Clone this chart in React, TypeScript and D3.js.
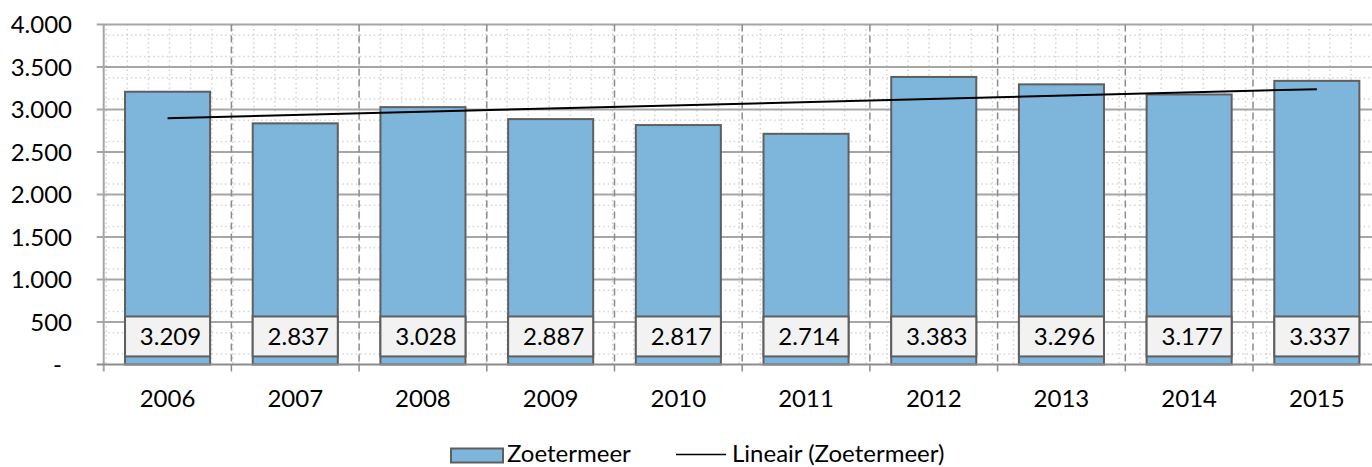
import React, { useEffect, useRef } from 'react';
import * as d3 from 'd3';

// chart data
const years = ['2006', '2007', '2008', '2009', '2010', '2011', '2012', '2013', '2014', '2015'];
const values = [3209, 2837, 3028, 2887, 2817, 2714, 3383, 3296, 3177, 3337];
const yTicks = [0, 500, 1000, 1500, 2000, 2500, 3000, 3500, 4000];
const seriesName = 'Zoetermeer';
const trendName = 'Lineair (Zoetermeer)';

const W = 1372;
const H = 467;
const FONT = 'Lato, Carlito, Calibri, sans-serif';
const FS = '24px';
const BAR = '#7eb5db';
const EDGE = '#5f5f5f';

// Dutch number format: 3.209
const fmt = (v: number) => (v === 0 ? '-' : d3.format(',')(v).replace(/,/g, '.'));

const App = () => {
    const ref = useRef<SVGSVGElement>(null);

    useEffect(() => {
        const svg = d3.select(ref.current);
        svg.selectAll('*').remove();

        const left = 103.7;
        const right = 1380.7; // plot runs past the picture edge
        const top = 24.5;
        const bottom = 364.5;

        const x = d3.scaleBand().domain(years).range([left, right])
            .paddingInner(0.334).paddingOuter(0.167);
        const y = d3.scaleLinear().domain([0, 4000]).range([bottom, top]);
        const step = x.step();

        const g = svg.append('g');

        // minor dotted grid
        const minorY = d3.range(125, 4000, 250);
        g.selectAll('.minor-y').data(minorY).enter().append('line')
            .attr('x1', left).attr('x2', W)
            .attr('y1', d => y(d)).attr('y2', d => y(d))
            .attr('stroke', '#d4d4d4').attr('stroke-width', 1.5)
            .attr('stroke-dasharray', '1.5,3');
        const minorX = d3.range(0, 60).map(i => left + 2.5 + i * 21.1).filter(v => v < W);
        g.selectAll('.minor-x').data(minorX).enter().append('line')
            .attr('x1', d => d).attr('x2', d => d)
            .attr('y1', top).attr('y2', bottom)
            .attr('stroke', '#d4d4d4').attr('stroke-width', 1.5)
            .attr('stroke-dasharray', '1.5,3');

        // major horizontal grid + y ticks
        g.selectAll('.major-y').data(yTicks.filter(d => d > 0)).enter().append('line')
            .attr('x1', left - 7).attr('x2', W)
            .attr('y1', d => y(d)).attr('y2', d => y(d))
            .attr('stroke', '#a6a6a6').attr('stroke-width', 2);

        // category boundaries
        const bounds = d3.range(1, years.length).map(i => left + i * step);
        g.selectAll('.major-x').data(bounds).enter().append('line')
            .attr('x1', d => d).attr('x2', d => d)
            .attr('y1', top).attr('y2', bottom)
            .attr('stroke', '#8c8c8c').attr('stroke-width', 1.5)
            .attr('stroke-dasharray', '7,4');

        // y axis line
        g.append('line')
            .attr('x1', left).attr('x2', left).attr('y1', top).attr('y2', bottom + 7)
            .attr('stroke', '#a6a6a6').attr('stroke-width', 2);

        // bars
        g.selectAll('.bar').data(values).enter().append('rect')
            .attr('x', (d, i) => x(years[i])!)
            .attr('y', d => y(d))
            .attr('width', x.bandwidth())
            .attr('height', d => bottom - y(d))
            .attr('fill', BAR).attr('stroke', EDGE).attr('stroke-width', 2);

        // x axis line + ticks
        g.append('line')
            .attr('x1', left - 7).attr('x2', W).attr('y1', bottom).attr('y2', bottom)
            .attr('stroke', '#8c8c8c').attr('stroke-width', 2);
        g.selectAll('.xtick').data(bounds).enter().append('line')
            .attr('x1', d => d).attr('x2', d => d)
            .attr('y1', bottom).attr('y2', bottom + 7)
            .attr('stroke', '#8c8c8c').attr('stroke-width', 1.5);

        // value label boxes
        const boxH = y(0) - y(470);
        const boxTop = y(565);
        g.selectAll('.lbox').data(values).enter().append('rect')
            .attr('x', (d, i) => x(years[i])!)
            .attr('y', boxTop)
            .attr('width', x.bandwidth())
            .attr('height', boxH)
            .attr('fill', '#f2f2f2').attr('stroke', EDGE).attr('stroke-width', 2);
        g.selectAll('.ltext').data(values).enter().append('text')
            .attr('x', (d, i) => x(years[i])! + x.bandwidth() / 2 + 3)
            .attr('y', boxTop + boxH / 2 + 8.5)
            .attr('text-anchor', 'middle')
            .style('font-family', FONT).style('font-size', FS).style('fill', '#000')
            .text(d => fmt(d));

        // linear trend (least squares)
        const idx = values.map((d, i) => i);
        const mx = d3.mean(idx)!;
        const my = d3.mean(values)!;
        const slope = d3.sum(idx, i => (i - mx) * (values[i] - my)) / d3.sum(idx, i => (i - mx) ** 2);
        const icpt = my - slope * mx;
        const line = d3.line<number>()
            .x(i => x(years[i])! + x.bandwidth() / 2)
            .y(i => y(icpt + slope * i));
        g.append('path')
            .datum([0, years.length - 1])
            .attr('d', line)
            .attr('fill', 'none').attr('stroke', '#000').attr('stroke-width', 2);

        // y labels
        g.selectAll('.ylab').data(yTicks).enter().append('text')
            .attr('x', d => (d === 0 ? 62 : 72))
            .attr('y', d => y(d) + 8.5)
            .attr('text-anchor', 'end')
            .style('font-family', FONT).style('font-size', FS).style('fill', '#000')
            .text(d => fmt(d));

        // x labels
        g.selectAll('.xlab').data(years).enter().append('text')
            .attr('x', d => x(d)! + x.bandwidth() / 2)
            .attr('y', 407)
            .attr('text-anchor', 'middle')
            .style('font-family', FONT).style('font-size', FS).style('fill', '#000')
            .text(d => d);

        // legend
        const lg = svg.append('g');
        lg.append('rect')
            .attr('x', 451).attr('y', 448.5).attr('width', 52).attr('height', 14)
            .attr('fill', BAR).attr('stroke', EDGE).attr('stroke-width', 2);
        lg.append('text')
            .attr('x', 507).attr('y', 462)
            .style('font-family', FONT).style('font-size', FS).style('fill', '#000')
            .text(seriesName);
        lg.append('line')
            .attr('x1', 676).attr('x2', 726).attr('y1', 454.5).attr('y2', 454.5)
            .attr('stroke', '#000').attr('stroke-width', 1.5);
        lg.append('text')
            .attr('x', 732).attr('y', 462)
            .style('font-family', FONT).style('font-size', FS).style('fill', '#000')
            .text(trendName);
    }, []);

    return (
        <svg ref={ref} width={W} height={H}
            style={{ position: 'absolute', left: 0, top: 0, background: '#fff' }} />
    );
};

export default App;
